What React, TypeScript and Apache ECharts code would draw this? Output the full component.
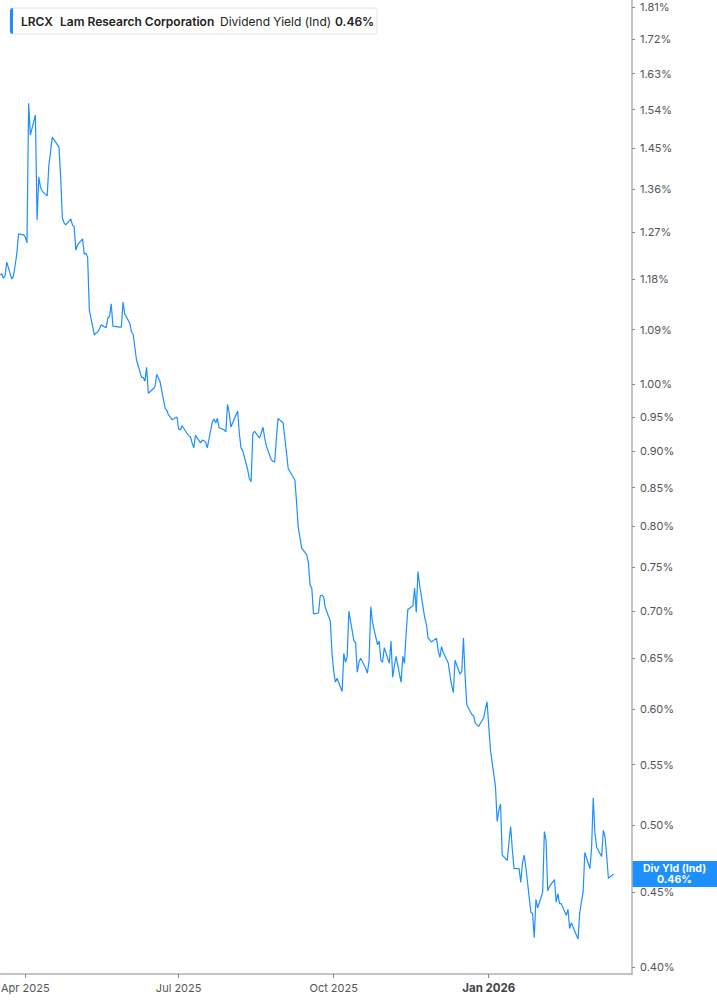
import { useEffect, useRef } from 'react';
import * as echarts from 'echarts';

const TICKER = 'LRCX';
const COMPANY = 'Lam Research Corporation';
const METRIC = 'Dividend Yield (Ind)';
const END_TAG = 'Div Yld (Ind)';

// one print per weekday from START_DATE, except these closed days
const START_DATE = '2025-03-17';
const AXIS_END = '2026-03-27';
const NO_PRINT_DAYS = [
  '2025-04-18', '2025-05-26', '2025-06-19', '2025-07-04',
  '2025-11-27', '2025-12-25', '2026-01-01',
];

const X_TICKS = ['2025-04-01', '2025-07-01', '2025-10-01', '2026-01-01'];
const Y_TICKS = [
  0.4, 0.45, 0.5, 0.55, 0.6, 0.65, 0.7, 0.75, 0.8, 0.85, 0.9, 0.95, 1.0,
  1.09, 1.18, 1.27, 1.36, 1.45, 1.54, 1.63, 1.72, 1.81,
];
const Y_MIN = 0.3957;
const Y_MAX = 1.83;

// dividend yield, %, one value per print
const YIELD = [
  1.188, 1.190, 1.182, 1.186, 1.212, 1.180, 1.186, 1.206, 1.229, 1.267,
  1.265, 1.261, 1.249, 1.556, 1.480, 1.527, 1.295, 1.385, 1.364, 1.355,
  1.345, 1.412, 1.441, 1.475, 1.452, 1.385, 1.299, 1.289, 1.285, 1.297,
  1.285, 1.281, 1.235, 1.245, 1.257, 1.227, 1.229, 1.221, 1.124, 1.081,
  1.084, 1.086, 1.091, 1.098, 1.093, 1.110, 1.113, 1.135, 1.096, 1.094,
  1.094, 1.138, 1.117, 1.101,
  1.086, 1.082, 1.060, 1.039, 1.011, 1.011, 1.005, 1.027, 0.986, 0.993,
  0.997, 1.016, 1.004, 0.963, 0.960, 0.953, 0.950, 0.946, 0.950, 0.932,
  0.931, 0.937, 0.922, 0.921, 0.912, 0.905, 0.923, 0.912, 0.916, 0.915,
  0.913, 0.905, 0.943, 0.947, 0.941, 0.948, 0.934, 0.931, 0.928, 0.969,
  0.956, 0.935, 0.953, 0.959, 0.926, 0.905, 0.901, 0.874, 0.862, 0.858,
  0.925, 0.929, 0.919, 0.926, 0.935, 0.920, 0.908, 0.888, 0.886, 0.885,
  0.919, 0.948, 0.941, 0.919, 0.898, 0.876, 0.872, 0.860, 0.830, 0.798,
  0.786, 0.773, 0.765, 0.755, 0.729, 0.726, 0.697, 0.698, 0.717, 0.718,
  0.716, 0.704, 0.689, 0.655, 0.637, 0.626, 0.630, 0.617, 0.655, 0.646,
  0.652, 0.700, 0.668, 0.666, 0.636, 0.646, 0.650, 0.640, 0.635, 0.648,
  0.705, 0.688, 0.664, 0.668, 0.648, 0.646, 0.661, 0.645, 0.668, 0.631,
  0.642, 0.652, 0.626, 0.652, 0.645, 0.677, 0.702, 0.706, 0.726, 0.699,
  0.745, 0.729, 0.693, 0.686, 0.671, 0.667, 0.671, 0.658, 0.651, 0.662,
  0.656, 0.645, 0.633, 0.623, 0.616, 0.648, 0.634, 0.637, 0.671, 0.631,
  0.604, 0.595, 0.594, 0.587, 0.584, 0.592, 0.600, 0.607, 0.563, 0.531,
  0.503, 0.512, 0.517, 0.477, 0.473, 0.487, 0.499, 0.481, 0.467, 0.467,
  0.457, 0.471, 0.477, 0.468, 0.436, 0.435, 0.419, 0.445, 0.439, 0.450,
  0.495, 0.488, 0.451, 0.454, 0.459, 0.443, 0.449, 0.442, 0.442, 0.434,
  0.438, 0.425, 0.429, 0.426, 0.418, 0.436, 0.443, 0.450, 0.479, 0.467,
  0.482, 0.522, 0.494, 0.483, 0.476, 0.496, 0.491, 0.476, 0.460, 0.463,
];

const MONTHS = ['Jan', 'Feb', 'Mar', 'Apr', 'May', 'Jun', 'Jul', 'Aug', 'Sep', 'Oct', 'Nov', 'Dec'];
const BLUE = '#1e8fff';
const FONT = 'Inter, "Noto Sans", sans-serif';
const AXIS_GAP = 85; // room right of the plot for the y labels

function printDates(start: string, count: number, skip: string[]) {
  const out: string[] = [];
  const d = new Date(start + 'T00:00:00Z');
  while (out.length < count) {
    const iso = d.toISOString().slice(0, 10);
    const wd = d.getUTCDay();
    if (wd !== 0 && wd !== 6 && !skip.includes(iso)) out.push(iso);
    d.setUTCDate(d.getUTCDate() + 1);
  }
  return out;
}

export default function App() {
  const chartRef = useRef<HTMLDivElement>(null);

  useEffect(() => {
    if (!chartRef.current) return;
    document.body.style.margin = '0';
    const chart = echarts.init(chartRef.current, null, { renderer: 'svg' });

    const dates = printDates(START_DATE, YIELD.length, NO_PRINT_DAYS);
    // x as UTC timestamps on a value axis; y as ln(yield) so the axis is logarithmic
    const data = YIELD.map((v, i) => [Date.parse(dates[i]), Math.log(v)]);
    const xTickVals = X_TICKS.map((d) => Date.parse(d));
    const yTickVals = Y_TICKS.map((v) => Math.log(v));
    const lastValue = YIELD[YIELD.length - 1];

    chart.setOption({
      animation: false,
      textStyle: { fontFamily: FONT },
      grid: { left: 0, right: AXIS_GAP, top: 0, bottom: 31, outerBoundsMode: 'none', containLabel: false },
      tooltip: { show: false },
      xAxis: {
        type: 'value',
        min: Date.parse(START_DATE),
        max: Date.parse(AXIS_END),
        axisLine: { onZero: false, lineStyle: { color: '#b0b0b0', width: 1.5 } },
        axisTick: { show: true, customValues: xTickVals, length: 4, lineStyle: { color: '#888' } },
        axisLabel: {
          customValues: xTickVals,
          color: '#555',
          fontSize: 11,
          margin: 8,
          formatter: (v: number) => {
            const d = new Date(v);
            const txt = `${MONTHS[d.getUTCMonth()]} ${d.getUTCFullYear()}`;
            return d.getUTCMonth() === 0 ? `{b|${txt}}` : txt;
          },
          rich: { b: { fontWeight: 'bold', color: '#444', fontSize: 11.5, fontFamily: FONT } },
        },
        splitLine: { show: false },
      },
      yAxis: {
        type: 'value',
        position: 'right',
        min: Math.log(Y_MIN),
        max: Math.log(Y_MAX),
        axisLine: { show: true, onZero: false, lineStyle: { color: '#b0b0b0', width: 1.5 } },
        axisTick: { show: true, customValues: yTickVals, length: 3, lineStyle: { color: '#888' } },
        axisLabel: {
          customValues: yTickVals,
          color: '#555',
          fontSize: 11,
          margin: 8,
          formatter: (v: number) => `${Math.exp(v).toFixed(2)}%`,
        },
        splitLine: { show: false },
      },
      series: [
        {
          type: 'line',
          data,
          showSymbol: false,
          lineStyle: { color: BLUE, width: 1.2 },
          itemStyle: { color: BLUE },
        },
      ],
    });

    const yLast = chart.convertToPixel({ yAxisIndex: 0 }, Math.log(lastValue)) as number;
    const xAxisEnd = chart.getWidth() - AXIS_GAP;
    const tagText = {
      fontSize: 10.5,
      fontWeight: 'bold',
      fontFamily: FONT,
      fill: '#fff',
      align: 'center',
      verticalAlign: 'middle',
    };

    chart.setOption({
      graphic: [
        {
          type: 'group',
          x: 10,
          y: 8,
          children: [
            {
              type: 'rect',
              shape: { x: 0, y: 0, width: 367, height: 26, r: 3 },
              style: { fill: '#fff', stroke: '#e4e4e4', lineWidth: 1 },
            },
            {
              type: 'rect',
              shape: { x: 0, y: 0, width: 3, height: 26, r: [3, 0, 0, 3] },
              style: { fill: BLUE },
            },
            {
              type: 'text',
              x: 11,
              y: 13,
              style: { text: TICKER, fontSize: 12, fontWeight: 600, fontFamily: FONT, fill: '#222', verticalAlign: 'middle' },
            },
            {
              type: 'text',
              x: 50,
              y: 13,
              style: { text: COMPANY, fontSize: 12, fontWeight: 600, fontFamily: FONT, fill: '#222', verticalAlign: 'middle' },
            },
            {
              type: 'text',
              x: 210,
              y: 13,
              style: { text: METRIC, fontSize: 12, fontFamily: FONT, fill: '#222', verticalAlign: 'middle' },
            },
            {
              type: 'text',
              x: 325,
              y: 13,
              style: { text: `${lastValue.toFixed(2)}%`, fontSize: 12, fontWeight: 600, fontFamily: FONT, fill: '#222', verticalAlign: 'middle' },
            },
          ],
        },
        {
          type: 'group',
          x: xAxisEnd,
          y: yLast - 13,
          children: [
            { type: 'rect', shape: { x: 0, y: 0, width: AXIS_GAP, height: 26 }, style: { fill: BLUE } },
            { type: 'text', x: AXIS_GAP / 2, y: 7.3, style: { ...tagText, text: END_TAG } },
            { type: 'text', x: AXIS_GAP / 2, y: 18.7, style: { ...tagText, text: `${lastValue.toFixed(2)}%` } },
          ],
        },
      ],
    });

    return () => {
      chart.dispose();
    };
  }, []);

  return <div ref={chartRef} style={{ width: 717, height: 1005, background: '#fff' }} />;
}
